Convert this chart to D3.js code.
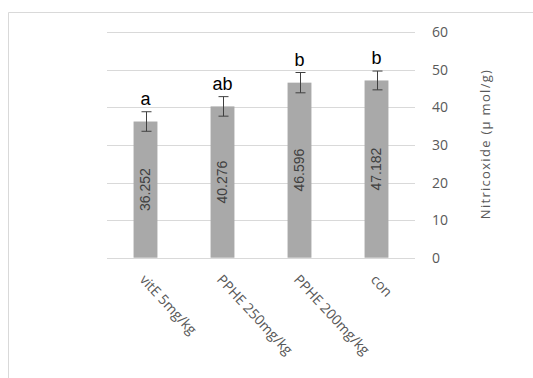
<!DOCTYPE html>
<html>
<head>
<meta charset="utf-8">
<script src="https://cdn.jsdelivr.net/npm/d3@7"></script>
<style>
  body { margin: 0; background: #fff; }
  svg { display: block; font-family: 'Liberation Sans', Arial, sans-serif; }
</style>
</head>
<body>
<div id="viz"></div>
<script>
const groups = ['vitE 5mg/kg', 'PPHE 250mg/kg', 'PPHE 200mg/kg', 'con'];
const values = [36.252, 40.276, 46.596, 47.182];
const errors = [2.6, 2.6, 2.7, 2.5];
const letters = ['a', 'ab', 'b', 'b'];
const yTicks = [0, 10, 20, 30, 40, 50, 60];

const width = 533, height = 378;
const plot = { left: 107, right: 415, top: 32.3, bottom: 257.7 };

const svg = d3.select('#viz').append('svg')
  .attr('width', width)
  .attr('height', height);

// chart frame
svg.append('path')
  .attr('d', `M8.5,${height} V12.5 H${width}`)
  .attr('fill', 'none')
  .attr('stroke', '#d9d9d9');

const x = d3.scaleBand()
  .domain(groups)
  .range([plot.left, plot.right])
  .paddingInner(0.69)
  .paddingOuter(0.345);

const y = d3.scaleLinear()
  .domain([0, 60])
  .range([plot.bottom, plot.top]);

// gridlines
svg.append('g')
  .selectAll('line').data(yTicks)
  .enter().append('line')
    .attr('x1', plot.left)
    .attr('x2', plot.right)
    .attr('y1', (d) => Math.round(y(d)) + 0.5)
    .attr('y2', (d) => Math.round(y(d)) + 0.5)
    .attr('stroke', '#d9d9d9');

// right axis labels
const yAxis = svg.append('g')
  .attr('transform', `translate(${plot.right}, 0)`)
  .call(d3.axisRight(y).tickValues(yTicks).tickSize(0).tickPadding(17));
yAxis.select('.domain').remove();
yAxis.selectAll('text')
  .attr('fill', '#595959')
  .style('font-size', '14px')
  .style('font-family', "'Open Sans', sans-serif");

svg.append('text')
  .attr('transform', `translate(490, ${(plot.top + plot.bottom) / 2 - 1}) rotate(-90)`)
  .attr('text-anchor', 'middle')
  .attr('fill', '#595959')
  .style('font-size', '13px')
  .style('font-family', "'Open Sans', sans-serif")
  .style('letter-spacing', '1.3px')
  .text('Nitricoxide (µ mol/g)');

// bars
svg.append('g')
  .selectAll('rect').data(values)
  .enter().append('rect')
    .attr('x', (d, i) => x(groups[i]))
    .attr('width', x.bandwidth())
    .attr('y', (d) => y(d))
    .attr('height', (d) => y(0) - y(d))
    .attr('fill', '#a9a9a9');

// error bars
const err = svg.append('g').attr('stroke', '#404040').attr('stroke-width', 1);
values.forEach((v, i) => {
  const cx = Math.round(x(groups[i]) + x.bandwidth() / 2) + 0.5;
  err.append('line')
    .attr('x1', cx).attr('x2', cx)
    .attr('y1', y(v + errors[i])).attr('y2', y(v - errors[i]));
  [v + errors[i], v - errors[i]].forEach((e) => {
    err.append('line')
      .attr('x1', cx - 5).attr('x2', cx + 5)
      .attr('y1', y(e)).attr('y2', y(e));
  });
});

// significance letters
svg.append('g')
  .selectAll('text').data(letters)
  .enter().append('text')
    .attr('x', (d, i) => x(groups[i]) + x.bandwidth() / 2)
    .attr('y', (d, i) => y(values[i] + errors[i]) - 7)
    .attr('text-anchor', 'middle')
    .attr('fill', '#000')
    .style('font-size', '18px')
    .text((d) => d);

// value labels inside bars
svg.append('g')
  .selectAll('text').data(values)
  .enter().append('text')
    .attr('transform', (d, i) => `translate(${x(groups[i]) + x.bandwidth() / 2}, ${(y(d) + y(0)) / 2}) rotate(-90)`)
    .attr('text-anchor', 'middle')
    .attr('dy', '0.35em')
    .attr('fill', '#404040')
    .style('font-size', '14px')
    .text((d) => d3.format('.3f')(d));

// category labels
svg.append('g')
  .selectAll('text').data(groups)
  .enter().append('text')
    .attr('transform', (d) => `translate(${x(d) + x.bandwidth() / 2 - 3}, 277) rotate(47)`)
    .attr('text-anchor', 'start')
    .attr('dy', '0.35em')
    .attr('fill', '#595959')
    .style('font-size', '14px')
    .style('font-family', "'Open Sans', sans-serif")
    .text((d) => d);
</script>
</body>
</html>
